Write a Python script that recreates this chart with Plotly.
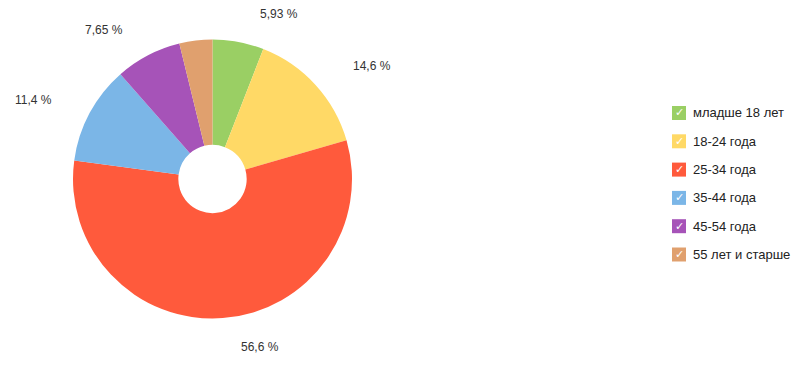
import math
import plotly.graph_objects as go

categories = ["младше 18 лет", "18-24 года", "25-34 года", "35-44 года", "45-54 года", "55 лет и старше"]
values = [5.93, 14.6, 56.6, 11.4, 7.65, 3.82]
colors = ["#9ACF64", "#FFD966", "#FF5A3C", "#7BB6E7", "#A653B8", "#E0A06E"]

W, H = 808, 368
CX, CY, R = 212.5, 179.0, 139.5

def px(x):
    return x / W

def py(y):
    return 1 - y / H

fig = go.Figure()
fig.add_trace(go.Pie(
    labels=categories, values=values, sort=False, direction="clockwise", rotation=0,
    hole=0.245, textinfo="none", hoverinfo="label+percent",
    marker=dict(colors=colors, line=dict(width=0)),
    domain=dict(x=[px(CX - R), px(CX + R)], y=[py(CY + R), py(CY - R)]),
    showlegend=False,
))

annotations = []
shapes = []
total = sum(values)
cum = 0.0
LR = 168
for v in values:
    mid = (cum + v / 2) / total * 2 * math.pi
    cum += v
    if v < 5:
        continue
    s, c = math.sin(mid), math.cos(mid)
    x = CX + LR * s
    y = CY - LR * c
    txt = (("%g" % v).replace(".", ",")) + " %"
    if s >= 0:
        anchor, xx = "left", x + 14
    else:
        anchor, xx = "right", x - 10
    annotations.append(dict(x=px(xx), y=py(y), xref="paper", yref="paper", text=txt,
                            showarrow=False, xanchor=anchor, yanchor="middle",
                            font=dict(family="Liberation Sans, Arial", size=12, color="#333333")))

# legend
for i, (name, col) in enumerate(zip(categories, colors)):
    yc = 113 + 28.3 * i
    shapes.append(dict(type="rect", xref="paper", yref="paper",
                       x0=px(672), x1=px(686), y0=py(yc + 7), y1=py(yc - 7),
                       fillcolor=col, line=dict(width=0)))
    annotations.append(dict(x=px(679), y=py(yc), xref="paper", yref="paper", text="<b>✓</b>",
                            showarrow=False, xanchor="center", yanchor="middle",
                            font=dict(family="DejaVu Sans", size=11, color="white")))
    annotations.append(dict(x=px(691), y=py(yc), xref="paper", yref="paper", text=name,
                            showarrow=False, xanchor="left", yanchor="middle",
                            font=dict(family="Liberation Sans, Arial", size=13, color="#222222")))

fig.update_layout(
    width=W, height=H, margin=dict(l=0, r=0, t=0, b=0),
    paper_bgcolor="white", plot_bgcolor="white",
    annotations=annotations, shapes=shapes, showlegend=False,
)
fig.write_html("out.html", config={"displayModeBar": False},
               post_script="document.body.style.margin='0';document.body.style.overflow='hidden';")
